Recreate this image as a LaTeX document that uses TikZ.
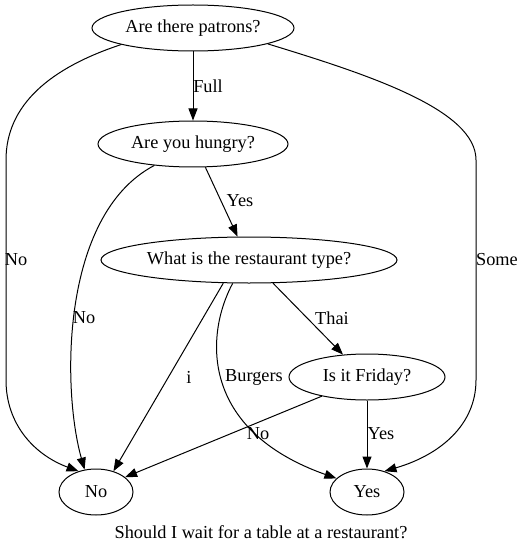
\documentclass[tikz,border=0pt]{standalone}
\usepackage{fontspec}
\setmainfont{Liberation Serif}
\usetikzlibrary{shapes.geometric,arrows.meta}
\begin{document}
\begin{tikzpicture}[x=1pt,y=-1pt,
  every node/.style={font=\fontsize{18.3}{20}\selectfont},
  st/.style={draw,ellipse,inner sep=0pt,line width=1pt},
  lbl/.style={inner sep=0pt},
  arr/.style={line width=1pt,-{Triangle[length=12pt,width=9pt]}}]
\useasboundingbox (0,0) rectangle (524,548);
\node[st,minimum width=202pt,minimum height=46pt] (patrons) at (193,28) {Are there patrons?};
\node[st,minimum width=190pt,minimum height=46pt] (hungry) at (193,144) {Are you hungry?};
\node[st,minimum width=296pt,minimum height=46pt] (type) at (249,260) {What is the restaurant type?};
\node[st,minimum width=156pt,minimum height=46pt] (friday) at (367,377) {Is it Friday?};
\node[st,minimum width=74pt,minimum height=46pt] (no) at (96,492) {No};
\node[st,minimum width=74pt,minimum height=46pt] (yes) at (367,492) {Yes};
\node[lbl] (caption) at (261,532) {Should I wait for a table at a restaurant?};
% edges
\draw[arr] (patrons) -- (hungry);
\node[lbl] (lfull) at (208,86) {Full};
\draw[arr] (patrons.193) .. controls (50,68) and (6,105) .. (6,160) -- (6,380) .. controls (6,425) and (35,455) .. (no.130);
\node[lbl] (lno1) at (16,260) {No};
\draw[arr] (patrons.-12) .. controls (370,75) and (476,110) .. (476,160) -- (476,380) .. controls (476,425) and (440,455) .. (yes.50);
\node[lbl] (lsome) at (497,260) {Some};
\draw[arr] (hungry.209) .. controls (60,215) and (62,390) .. (no.117);
\node[lbl] (lno2) at (84,318) {No};
\draw[arr] (hungry.-62) -- (type.116);
\node[lbl] (lyes1) at (240,201) {Yes};
\draw[arr] (type.222) -- (no.50);
\node[lbl] (li) at (189,377) {i};
\draw[arr] (type.235) .. controls (205,335) and (200,430) .. (yes.156);
\node[lbl] (lburg) at (254,377) {Burgers};
\draw[arr] (type.-44) -- (friday.137);
\node[lbl] (lthai) at (332,318) {Thai};
\draw[arr] (friday.203) -- (no.27);
\node[lbl] (lno3) at (258,434) {No};
\draw[arr] (friday) -- (yes);
\node[lbl] (lyes2) at (381,434) {Yes};
\end{tikzpicture}
\end{document}
